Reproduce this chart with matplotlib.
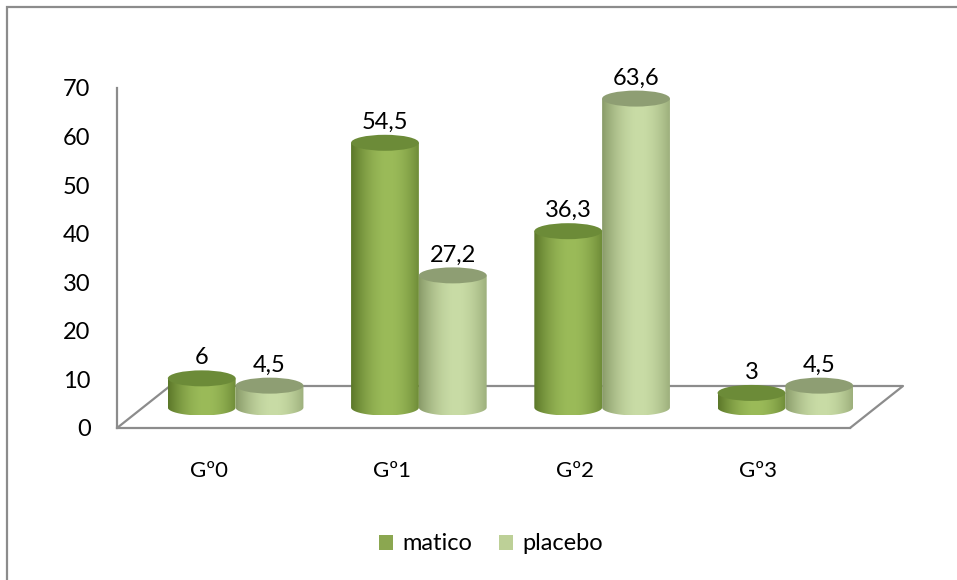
import numpy as np
import matplotlib.pyplot as plt
from matplotlib.patches import Ellipse, Patch, Rectangle
from matplotlib.path import Path
from matplotlib.colors import to_rgb

# ---- data ----
categories = ["Gº0", "Gº1", "Gº2", "Gº3"]
series_names = ["matico", "placebo"]
matico = [6, 54.5, 36.3, 3]
placebo = [4.5, 27.2, 63.6, 4.5]
value_labels_matico = ["6", "54,5", "36,3", "3"]
value_labels_placebo = ["4,5", "27,2", "63,6", "4,5"]
y_ticks = [0, 10, 20, 30, 40, 50, 60, 70]

# ---- style ----
plt.rcParams['font.family'] = ['Lato', 'DejaVu Sans']
FS = 17
W, H = 957, 580
GRAY = '#8C8C8C'
styles = {
    "matico":  dict(edge='#5A7628', mid='#9BBB59', top='#6C8B38', legend='#8BA750'),
    "placebo": dict(edge='#889A68', mid='#C9DCA6', top='#8E9E73', legend='#BDD097'),
}

fig = plt.figure(figsize=(W / 100, H / 100), dpi=100)


def px_rect(l, t, r, b):
    return [l / W, 1 - b / H, (r - l) / W, (b - t) / H]


# outer frame of the chart area
fig.patches.append(Rectangle((6.5 / W, -0.05), 1.2, 1.05 - 6.5 / H,
                             transform=fig.transFigure, fill=False,
                             edgecolor=GRAY, linewidth=1.6))

# front plane: value axis, category labels and floor
ax = fig.add_axes(px_rect(117, 88, 850, 428))
ax.set_xlim(0, 4)
ax.set_ylim(0, 70)
ax.patch.set_alpha(0)
for s in ('top', 'right'):
    ax.spines[s].set_visible(False)
for s in ('left', 'bottom'):
    ax.spines[s].set_color(GRAY)
    ax.spines[s].set_linewidth(1.6)
ax.set_yticks(y_ticks)
ax.set_yticklabels([str(t) for t in y_ticks], fontsize=FS)
ax.set_xticks(np.arange(len(categories)) + 0.5)
ax.set_xticklabels(categories, fontsize=FS - 1)
ax.tick_params(axis='y', length=0, pad=19)
ax.tick_params(axis='x', length=0, pad=24)

px_per_x = 733 / 4
px_per_y = 340 / 70
ddx, ddy = 53 / px_per_x, 42 / px_per_y
ax.plot([0, ddx, 4 + ddx, 4], [0, ddy, ddy, 0], color=GRAY, lw=1.6,
        clip_on=False, solid_capstyle='butt', zorder=1)

# bars sit in the middle of the floor depth; a little room below zero
# keeps the rounded bottoms of the cylinders inside the axes
y_low = -6
bx = fig.add_axes(px_rect(117 + 27, 88 - 20.5, 850 + 27, 428 - 20.5 - y_low * px_per_y))
bx.axis('off')
bx.patch.set_alpha(0)

bar_w = 0.37
eh = 8 / px_per_y  # half height of the cylinder ellipses


def shade(edge, mid, n=200):
    t = np.linspace(0, 1, n)
    w = np.clip(np.sin(np.pi * np.clip(t / 1.1, 0, 1)), 0, 1) ** 0.9
    e, m = np.array(to_rgb(edge)), np.array(to_rgb(mid))
    return (e[None, :] * (1 - w[:, None]) + m[None, :] * w[:, None])[None, :, :]


def cylinder(xc, v, st, label):
    x0, x1 = xc - bar_w / 2, xc + bar_w / 2
    th = np.linspace(np.pi, 2 * np.pi, 60)
    verts = [(x0, v)] + [(xc + bar_w / 2 * np.cos(a), eh * np.sin(a)) for a in th] + [(x1, v), (x0, v)]
    codes = [Path.MOVETO] + [Path.LINETO] * (len(verts) - 2) + [Path.CLOSEPOLY]
    clip = Path(verts, codes)
    im = bx.imshow(shade(st['edge'], st['mid']), extent=(x0, x1, -eh, v),
                   aspect='auto', interpolation='bilinear', origin='lower', zorder=2)
    im.set_clip_path(clip, transform=bx.transData)
    bx.add_patch(Ellipse((xc, v), bar_w, 2 * eh, facecolor=st['top'],
                         edgecolor='none', zorder=3))
    bx.annotate(label, xy=(xc, v), xytext=(0, (8 + 2) * 0.72),
                textcoords='offset points', ha='center', va='bottom',
                fontsize=FS, color='black', zorder=4)


for i in range(len(categories)):
    cylinder(i + 0.5 - bar_w / 2, matico[i], styles["matico"], value_labels_matico[i])
    cylinder(i + 0.5 + bar_w / 2, placebo[i], styles["placebo"], value_labels_placebo[i])
bx.set_xlim(0, 4)
bx.set_ylim(y_low, 70)

handles = [Patch(facecolor=styles[n]['legend'], edgecolor='none', label=n)
           for n in series_names]
fig.legend(handles=handles, loc='center', bbox_to_anchor=(491 / W, 1 - 544 / H),
           ncol=2, frameon=False, fontsize=FS, handlelength=0.6, handleheight=0.6,
           handletextpad=0.4, columnspacing=1.1)

fig.savefig('out.png', dpi=100)
